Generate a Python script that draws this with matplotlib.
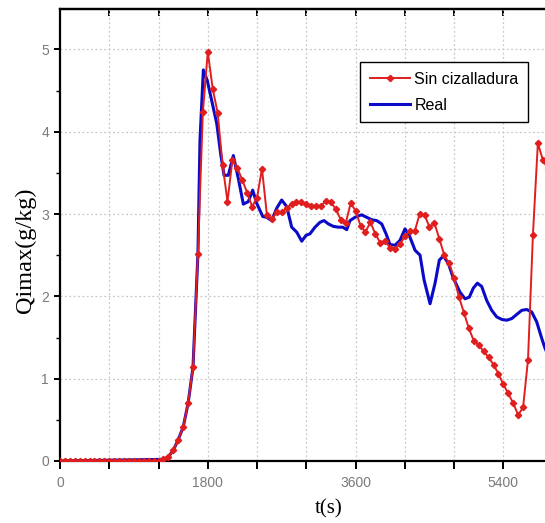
import matplotlib
matplotlib.use("Agg")
import matplotlib.pyplot as plt
from matplotlib.ticker import MultipleLocator, FuncFormatter, NullFormatter

# Sin cizalladura (one point every 60 s)
t_red = list(range(0, 6000, 60))
q_red = [0.0] * 21 + [
    0.02, 0.05, 0.13, 0.26, 0.41, 0.70, 1.14, 2.52, 4.24, 4.97,
    4.52, 4.23, 3.60, 3.15, 3.66, 3.56, 3.41, 3.26, 3.09, 3.20,
    3.55, 2.99, 2.94, 3.02, 3.02, 3.07, 3.12, 3.15, 3.14, 3.12,
    3.10, 3.10, 3.10, 3.16, 3.14, 3.06, 2.93, 2.89, 3.13, 3.04,
    2.86, 2.78, 2.90, 2.76, 2.65, 2.67, 2.59, 2.58, 2.63, 2.73,
    2.79, 2.79, 3.00, 2.99, 2.84, 2.89, 2.70, 2.50, 2.40, 2.22,
    1.99, 1.80, 1.61, 1.46, 1.41, 1.33, 1.26, 1.17, 1.06, 0.93,
    0.82, 0.70, 0.56, 0.65, 1.23, 2.75, 3.86, 3.66, 3.55,
]

# Real
t_blue = [0, 1260, 1320, 1380, 1440, 1500, 1560, 1620, 1680, 1705, 1746,
          1794, 1909, 1957, 1998, 2050, 2111, 2172, 2233, 2293, 2347, 2396,
          2469, 2517, 2578, 2639, 2700, 2761, 2822, 2883, 2944, 2996, 3045,
          3106, 3167, 3216, 3268, 3329, 3390, 3443, 3492, 3532, 3593, 3674,
          3735, 3796, 3857, 3918, 3971, 4019, 4080, 4141, 4202, 4254, 4324,
          4385, 4434, 4507, 4568, 4620, 4669, 4730, 4791, 4872, 4933, 4985,
          5034, 5083, 5136, 5197, 5258, 5319, 5380, 5441, 5502, 5563, 5623,
          5684, 5745, 5806, 5867, 5907, 5960]
q_blue = [0.0, 0.02, 0.05, 0.13, 0.26, 0.41, 0.70, 1.14, 2.52, 3.90, 4.75,
          4.62, 4.10, 3.73, 3.47, 3.47, 3.71, 3.43, 3.12, 3.15, 3.29, 3.13,
          2.97, 2.96, 2.92, 3.07, 3.17, 3.09, 2.84, 2.78, 2.67, 2.74, 2.76,
          2.84, 2.90, 2.92, 2.88, 2.85, 2.84, 2.84, 2.81, 2.92, 2.96, 2.99,
          2.96, 2.93, 2.92, 2.88, 2.76, 2.63, 2.62, 2.68, 2.82, 2.74, 2.56,
          2.50, 2.20, 1.91, 2.16, 2.44, 2.49, 2.40, 2.22, 2.05, 1.97, 1.99,
          2.10, 2.16, 2.12, 1.95, 1.83, 1.75, 1.72, 1.71, 1.73, 1.78, 1.83,
          1.84, 1.81, 1.69, 1.49, 1.37, 1.25]

fig = plt.figure(figsize=(5.45, 5.23), dpi=100)
ax = fig.add_axes([60 / 545, 62 / 523, 1 - 60 / 545, 452 / 523])

ax.plot(t_red, q_red, color="#e01e1e", lw=1.4, marker="D", ms=3.2,
        label="Sin cizalladura", zorder=3)
ax.plot(t_blue, q_blue, color="#0a0ac8", lw=2.2, label="Real", zorder=2)

ax.set_xlim(0, 5907)
ax.set_ylim(0, 5.49)

ax.xaxis.set_major_locator(MultipleLocator(600))
ax.xaxis.set_major_formatter(FuncFormatter(lambda v, p: "%d" % v if v % 1800 == 0 else ""))
ax.yaxis.set_major_locator(MultipleLocator(1))
ax.yaxis.set_minor_locator(MultipleLocator(0.5))

ax.grid(True, which="major", color="#c8c8c8", linestyle=(0, (1.5, 2)), lw=0.9)
ax.set_axisbelow(True)

ax.spines["right"].set_visible(False)
for s in ["left", "bottom", "top"]:
    ax.spines[s].set_linewidth(1.6)

ax.tick_params(axis="x", direction="out", length=6, width=1.4,
               labelsize=10, labelcolor="#7a7a7a", pad=5)
ax.tick_params(axis="y", direction="out", length=4, width=1.4,
               labelsize=10, labelcolor="#7a7a7a", pad=4)
ax.tick_params(axis="y", which="minor", direction="out", length=3, width=1)
for lab in ax.get_xticklabels() + ax.get_yticklabels():
    lab.set_fontfamily("Liberation Sans")

# inward ticks along the top edge
top = ax.secondary_xaxis("top")
top.xaxis.set_major_locator(MultipleLocator(600))
top.xaxis.set_major_formatter(NullFormatter())
top.tick_params(direction="in", length=5, width=1.4)
top.spines["top"].set_linewidth(1.6)

ax.set_xlabel("t(s)", fontsize=15, family="Liberation Serif")
ax.xaxis.set_label_coords((329 - 60) / 485, -0.085)
ax.set_ylabel("Qimax(g/kg)", fontsize=17.5, family="Liberation Serif")
ax.yaxis.set_label_coords(-0.05, (461 - 250) / 452)

leg = ax.legend(loc="upper left", bbox_to_anchor=((360 - 60) / 485, (461 - 62) / 452),
                borderaxespad=0, fancybox=False, framealpha=1, edgecolor="black",
                prop={"family": "Liberation Sans", "size": 11.5},
                handlelength=2.5, borderpad=0.6, labelspacing=0.7, handletextpad=0.3)
leg.get_frame().set_linewidth(1.0)

fig.savefig("out.png", dpi=100)
